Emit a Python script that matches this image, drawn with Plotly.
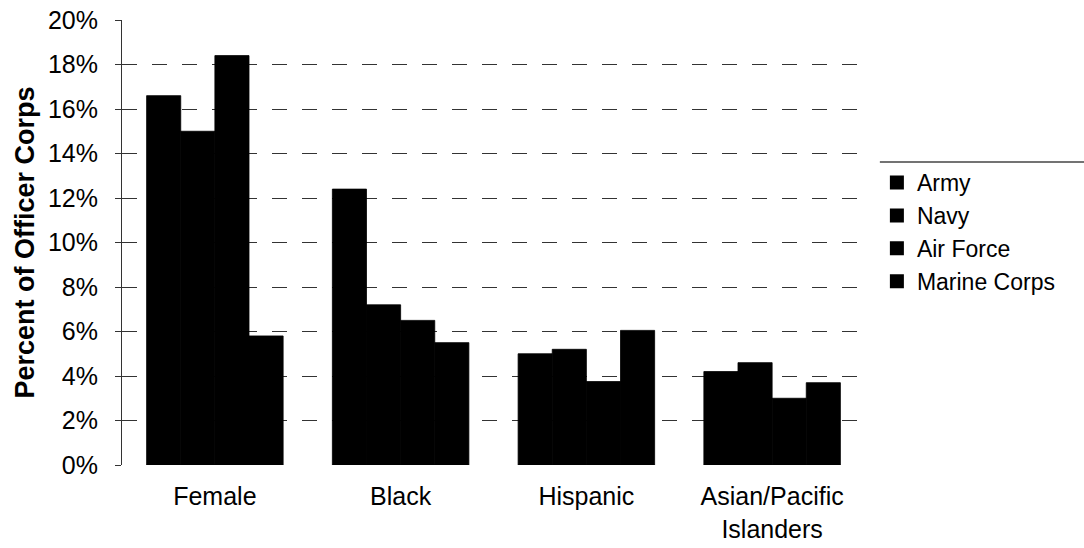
import plotly.graph_objects as go

categories = ["Female", "Black", "Hispanic", "Asian/Pacific<br>Islanders"]
series_names = ["Army", "Navy", "Air Force", "Marine Corps"]
army = [16.6, 12.4, 5.0, 4.2]
navy = [15.0, 7.2, 5.2, 4.6]
air_force = [18.4, 6.5, 3.75, 3.0]
marine_corps = [5.8, 5.5, 6.05, 3.7]
y_ticks = [0, 2, 4, 6, 8, 10, 12, 14, 16, 18, 20]
y_tick_labels = ["0%", "2%", "4%", "6%", "8%", "10%", "12%", "14%", "16%", "18%", "20%"]

font_family = "Liberation Sans, Arial, sans-serif"

fig = go.Figure()
for name, vals in zip(series_names, [army, navy, air_force, marine_corps]):
    fig.add_trace(go.Bar(
        x=categories, y=vals, name=name,
        marker=dict(color="black", line=dict(width=0.8, color="black")),
    ))

fig.update_layout(
    width=1084, height=548,
    paper_bgcolor="white", plot_bgcolor="white",
    margin=dict(l=122, r=219, t=20, b=83),
    barmode="group", bargap=0.265, bargroupgap=0,
    font=dict(family=font_family, size=25, color="black"),
    showlegend=True,
    legend=dict(
        x=1.016, xanchor="left", y=0.683, yanchor="top",
        font=dict(size=23, color="black"),
        itemsizing="constant", tracegroupgap=0,
        bgcolor="rgba(0,0,0,0)",
    ),
    xaxis=dict(
        showgrid=False, showline=False, ticks="",
        tickfont=dict(size=25), fixedrange=True,
        automargin=False, ticklabelstandoff=14,
    ),
    yaxis=dict(
        range=[0, 20], tickvals=y_ticks, ticktext=y_tick_labels,
        showgrid=True, gridcolor="#333", griddash="longdash", gridwidth=1,
        showline=True, linecolor="#333", linewidth=1,
        ticks="outside", ticklen=6, tickcolor="#333",
        tickfont=dict(size=25), ticklabelstandoff=12,
        title=dict(text="<b>Percent of Officer Corps</b>", font=dict(size=27), standoff=5),
        zeroline=False, automargin=False,
    ),
)

# decorative top border line of legend box
fig.add_shape(type="line", xref="paper", yref="paper",
              x0=1.02, x1=1.3, y0=0.681, y1=0.681,
              line=dict(color="#444", width=1.5))

fig.write_html("out.html", config={"displayModeBar": False},
               post_script="document.body.style.margin='0';")
